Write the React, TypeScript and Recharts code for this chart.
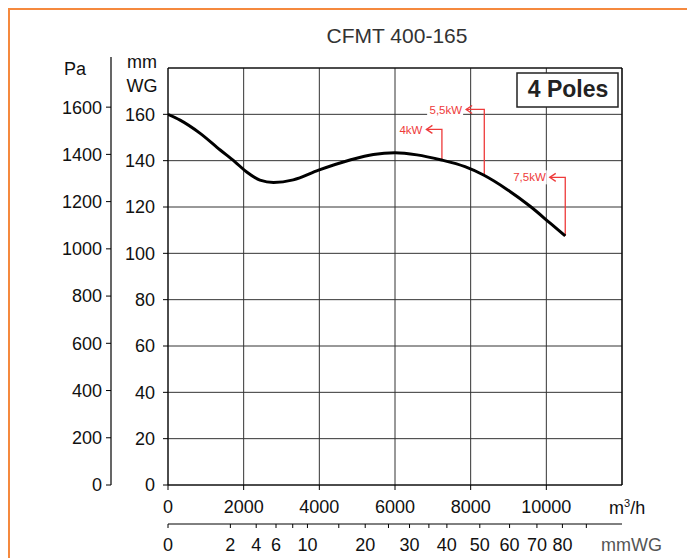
import React from 'react'
import { LineChart, Line, XAxis, YAxis, CartesianGrid, ReferenceLine, Customized } from 'recharts'

// fan curve, flow in m3/h, static pressure in mmWG
const flow = [0, 320, 850, 1380, 1770, 2080, 2430, 2790, 3310, 3980, 4810, 5430, 6000, 6580, 7200, 7850, 8340, 8960, 9580, 10110, 10500]
const pressure = [160, 157.5, 151.8, 144.6, 139.5, 135.1, 131.6, 130.6, 131.7, 135.9, 140.3, 142.7, 143.4, 142.5, 140.4, 137.4, 133.8, 127.6, 120.2, 112.9, 107.5]

// motor power markers
const motorLabels = ['4kW', '5,5kW', '7,5kW']
const motorFlow = [7240, 8360, 10500]
const motorBase = [140.2, 133.6, 107.5]
const motorTop = [153.5, 162.1, 132.8]
const motorTip = [6830, 7880, 10090]

const flowTicks = [0, 2000, 4000, 6000, 8000, 10000]
const mmTicks = [0, 20, 40, 60, 80, 100, 120, 140, 160]
const paTicks = [0, 200, 400, 600, 800, 1000, 1200, 1400, 1600]
// dynamic pressure scale (mmWG), square-root spaced against flow
const pdTicks = [0, 2, 4, 6, 8, 10, 15, 20, 25, 30, 35, 40, 50, 60, 70, 80, 90]
const pdLabels = [0, 2, 4, 6, 10, 20, 30, 40, 50, 60, 70, 80]
const PD_AT_MAX_FLOW = 106
const MAX_FLOW = 12000

const pdTickFlow = pdTicks.map((p) => MAX_FLOW * Math.sqrt(p / PD_AT_MAX_FLOW))

const curve = flow.map((q, i) => ({ q, v: pressure[i] }))
const motors = motorLabels.map((label, i) => ({
  label,
  data: [
    { q: motorFlow[i], v: motorBase[i] },
    { q: motorFlow[i], v: motorTop[i] },
    { q: motorTip[i], v: motorTop[i] },
  ],
}))

const RED = '#ee3a3a'
const FONT = '"Liberation Sans", Arial, sans-serif'
const tickStyle = { fontSize: 18, fill: '#111', fontFamily: FONT }

const pdFormat = (v: number) => {
  const i = pdTickFlow.findIndex((t) => Math.abs(t - v) < 1)
  return i >= 0 && pdLabels.includes(pdTicks[i]) ? String(pdTicks[i]) : ''
}

const tipDot = (label: string) => (props: any) => {
  const { cx, cy, index } = props
  if (index !== 2) return <g key={`d${index}`} />
  const w = label.length * 6.6 + 2
  return (
    <g key="tip">
      <rect x={cx - 4 - w} y={cy - 7} width={w + 1} height={14} fill="#fff" />
      <text x={cx - 4} y={cy} dy="0.36em" textAnchor="end" fontSize={11.5} fill={RED} fontFamily={FONT}>
        {label}
      </text>
      <polyline points={`${cx + 6},${cy - 4} ${cx},${cy} ${cx + 6},${cy + 4}`} fill="none" stroke={RED} strokeWidth={1.3} />
    </g>
  )
}

const Decorations = () => (
  <g fontFamily={FONT}>
    <text x={387} y={33} textAnchor="middle" fontSize={21} fill="#333">CFMT 400-165</text>
    <line x1={101} y1={47} x2={101} y2={475} stroke="#000" strokeWidth={1.2} />
    <text x={65} y={65} textAnchor="middle" fontSize={18} fill="#111">Pa</text>
    <text x={132} y={58} textAnchor="middle" fontSize={18} fill="#111">mm</text>
    <text x={132} y={82} textAnchor="middle" fontSize={18} fill="#111">WG</text>
    <rect x={507} y={63} width={101} height={34} fill="#fff" stroke="#222" strokeWidth={1.5} />
    <text x={558} y={87} textAnchor="middle" fontSize={23} fontWeight="bold" fill="#222">4 Poles</text>
    <text x={599} y={504} fontSize={18} fill="#111">
      m<tspan dy={-7} fontSize={11}>3</tspan><tspan dy={7}>/h</tspan>
    </text>
    <text x={591} y={541} fontSize={18} fill="#555">mmWG</text>
  </g>
)

export default function App() {
  return (
    <div
      style={{
        position: 'absolute',
        left: 8,
        top: 8,
        width: 679,
        height: 550,
        boxSizing: 'border-box',
        borderTop: '2px solid #f5893e',
        borderLeft: '2px solid #f5893e',
        overflow: 'hidden',
        background: '#fff',
      }}
    >
      <LineChart width={677} height={548} data={curve} margin={{ top: 58, right: 65, left: 51, bottom: 8 }}>
        <CartesianGrid xAxisId="a" yAxisId="mm" stroke="#333" strokeWidth={1} />
        <XAxis
          xAxisId="b"
          dataKey="q"
          type="number"
          domain={[0, MAX_FLOW]}
          ticks={pdTickFlow}
          allowDataOverflow
          interval={0}
          height={26}
          tickSize={4}
          tickMargin={10}
          stroke="#000"
          tick={tickStyle}
          tickFormatter={pdFormat}
        />
        <XAxis
          xAxisId="a"
          dataKey="q"
          type="number"
          domain={[0, MAX_FLOW]}
          ticks={flowTicks}
          allowDataOverflow
          interval={0}
          height={39}
          tickSize={5}
          tickMargin={10}
          stroke="#000"
          tick={tickStyle}
        />
        <YAxis
          yAxisId="mm"
          type="number"
          domain={[0, 180]}
          ticks={mmTicks}
          allowDataOverflow
          interval={0}
          width={57}
          tickSize={5}
          tickMargin={8}
          stroke="#000"
          tick={tickStyle}
        />
        <YAxis
          yAxisId="pa"
          type="number"
          domain={[0, 1765.8]}
          ticks={paTicks}
          allowDataOverflow
          interval={0}
          width={50}
          tickSize={5}
          tickMargin={4}
          axisLine={false}
          stroke="#000"
          tick={tickStyle}
        />
        <ReferenceLine xAxisId="a" yAxisId="mm" y={180} stroke="#000" strokeWidth={1.2} />
        <ReferenceLine xAxisId="a" yAxisId="mm" x={MAX_FLOW} stroke="#000" strokeWidth={1.2} />
        {motors.map((m) => (
          <Line
            key={m.label}
            xAxisId="a"
            yAxisId="mm"
            data={m.data}
            dataKey="v"
            type="linear"
            stroke={RED}
            strokeWidth={1.3}
            dot={tipDot(m.label)}
            activeDot={false}
            isAnimationActive={false}
          />
        ))}
        <Line
          xAxisId="a"
          yAxisId="mm"
          dataKey="v"
          type="monotone"
          stroke="#000"
          strokeWidth={3}
          dot={false}
          activeDot={false}
          isAnimationActive={false}
        />
        <Customized component={Decorations} />
      </LineChart>
    </div>
  )
}
